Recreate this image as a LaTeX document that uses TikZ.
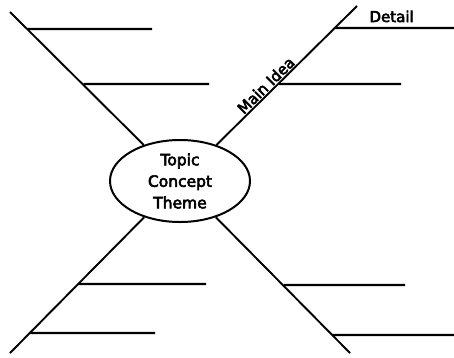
\documentclass[tikz,border=0pt]{standalone}
\usepackage{fontspec}
\setmainfont[FakeBold=3.5]{DejaVu Sans}
\usetikzlibrary{shapes.geometric}
\begin{document}
\begin{tikzpicture}[x=1pt,y=-1pt]
\tikzset{
  diag/.style={line width=1.9pt},
  branch/.style={line width=2.1pt},
  lbl/.style={font=\fontsize{15}{17}\selectfont},
  topic/.style={ellipse, draw, line width=2pt, minimum width=140pt, minimum height=82pt,
    inner sep=0pt, align=center, font=\fontsize{15.5}{21.5}\selectfont}
}
\useasboundingbox (0,0) rectangle (454,357);
\node[topic] (E) at (180,181) {Topic\\Concept\\Theme};
\coordinate (c) at (182,180);
\coordinate (ul) at (10,12);
\coordinate (ur) at (357,6);
\coordinate (ll) at (10,353);
\coordinate (lr) at (350,353);
% diagonals
\draw[diag] (E) -- (ul);
\draw[diag] (E) -- (ur) node[pos=0.39, sloped, above, inner sep=1pt, lbl] (mi) {Main Idea};
\draw[diag] (E) -- (ll);
\draw[diag] (E) -- (lr);
% branch points
\coordinate (ul1) at (intersection of c--ul and 0,29--100,29);
\coordinate (ul2) at (intersection of c--ul and 0,84--100,84);
\coordinate (ur1) at (intersection of c--ur and 0,28--100,28);
\coordinate (ur2) at (intersection of c--ur and 0,84--100,84);
\coordinate (ll1) at (intersection of c--ll and 0,284--100,284);
\coordinate (ll2) at (intersection of c--ll and 0,333--100,333);
\coordinate (lr1) at (intersection of c--lr and 0,285--100,285);
\coordinate (lr2) at (intersection of c--lr and 0,335--100,335);
\coordinate (ul1e) at (152,29);
\coordinate (ul2e) at (209,84);
\coordinate (ur1e) at (454,28);
\coordinate (ur2e) at (401,84);
\coordinate (ll1e) at (206,284);
\coordinate (ll2e) at (155,333);
\coordinate (lr1e) at (405,285);
\coordinate (lr2e) at (454,335);
\foreach \b in {ul1,ul2,ur1,ur2,ll1,ll2,lr1,lr2}{
  \draw[branch] (\b) -- (\b e);
}
\node[lbl, anchor=base west] (dt) at (366,22) {Detail};
\end{tikzpicture}
\end{document}
